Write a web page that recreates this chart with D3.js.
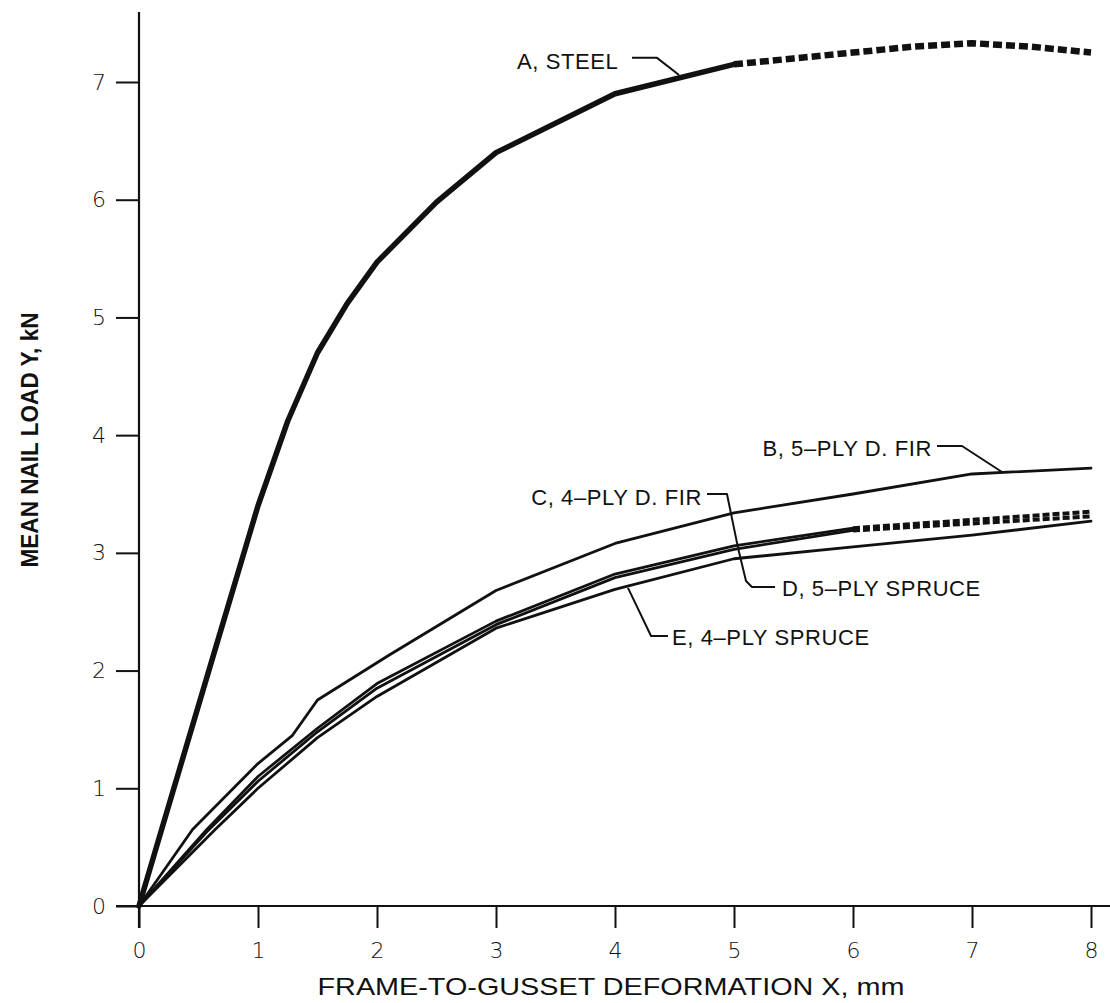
<!DOCTYPE html>
<html>
<head>
<meta charset="utf-8">
<script src="https://cdn.jsdelivr.net/npm/d3@7/dist/d3.min.js"></script>
<style>
  html, body { margin: 0; padding: 0; background: #fff; }
  svg { display: block; }
</style>
</head>
<body>
<svg id="chart" width="1110" height="1003"></svg>
<script>
// ---- data ----
const xTicks = [0, 1, 2, 3, 4, 5, 6, 7, 8];
const yTicks = [0, 1, 2, 3, 4, 5, 6, 7];

// A, steel (solid part, then dashed extrapolation)
const aX = [0, 0.19, 0.64, 1, 1.25, 1.5, 1.75, 2, 2.5, 3, 4, 5];
const aY = [0, 0.65, 2.18, 3.4, 4.12, 4.7, 5.12, 5.47, 5.98, 6.4, 6.9, 7.15];
const aDashX = [5, 5.5, 6, 6.5, 7, 7.5, 8];
const aDashY = [7.15, 7.2, 7.25, 7.3, 7.33, 7.3, 7.25];

// B, 5-ply D. fir
const bX = [0, 0.45, 1, 1.29, 1.5, 2.1, 3, 4, 5, 6, 7, 8];
const bY = [0, 0.65, 1.21, 1.45, 1.75, 2.13, 2.68, 3.08, 3.34, 3.5, 3.67, 3.72];

// C, 4-ply D. fir
const cX = [0, 0.57, 1, 1.5, 2, 3, 4, 5, 6];
const cY = [0, 0.65, 1.1, 1.51, 1.89, 2.42, 2.82, 3.06, 3.21];
const cDashX = [6, 7, 8];
const cDashY = [3.21, 3.28, 3.35];

// D, 5-ply spruce
const dX = [0, 0.57, 1, 1.5, 2, 3, 4, 5, 6];
const dY = [0, 0.63, 1.06, 1.48, 1.85, 2.39, 2.79, 3.03, 3.19];
const dDashX = [6, 7, 8];
const dDashY = [3.19, 3.25, 3.31];

// E, 4-ply spruce
const eX = [0, 0.64, 1, 1.5, 2, 3, 4, 5, 6, 7, 8];
const eY = [0, 0.65, 1.0, 1.43, 1.78, 2.36, 2.69, 2.95, 3.05, 3.15, 3.27];

// curve labels (text anchor point + leader polyline, in data units)
const labelText = ["A, STEEL", "B, 5–PLY D. FIR", "C, 4–PLY D. FIR", "D, 5–PLY SPRUCE", "E, 4–PLY SPRUCE"];
const labelPos = [[3.176, 7.18], [6.664, 3.891], [4.731, 3.475], [5.403, 2.702], [4.479, 2.285]];
const labelAnchor = ["start", "end", "end", "start", "start"];
const leaderPts = [
  [[4.143, 7.205], [4.353, 7.205], [4.538, 7.06]],
  [[6.706, 3.908], [6.916, 3.908], [7.252, 3.687]],
  [[4.773, 3.50], [4.941, 3.50], [5.034, 3.042]],
  [[5.345, 2.71], [5.151, 2.71], [5.101, 2.761], [5.034, 3.042]],
  [[4.445, 2.294], [4.303, 2.294], [4.109, 2.702]]
];

const xTitle = "FRAME-TO-GUSSET DEFORMATION X, mm";
const yTitle = "MEAN NAIL LOAD Y, kN";

// ---- drawing ----
const svg = d3.select("#chart");
const x = d3.scaleLinear().domain([0, 8]).range([139, 1091]);
const y = d3.scaleLinear().domain([0, 7]).range([906, 82]);
const ink = "#111";

// axes
const xAxis = d3.axisBottom(x).tickValues(xTicks).tickSize(22).tickPadding(11).tickFormat(d3.format("d"));
const yAxis = d3.axisLeft(y).tickValues(yTicks).tickSize(23).tickPadding(10).tickFormat(d3.format("d"));

const gx = svg.append("g").attr("transform", `translate(0,${y(0)})`).call(xAxis);
const gy = svg.append("g").attr("transform", `translate(${x(0)},0)`).call(yAxis);
gx.select(".domain").remove();
gy.select(".domain").remove();
[gx, gy].forEach(g => {
  g.selectAll(".tick line").attr("stroke", ink).attr("stroke-width", 2);
  g.selectAll(".tick text").attr("fill", ink)
    .style("font-family", "'DejaVu Sans', sans-serif").style("font-size", "22px").style("font-weight", "300");
});
gx.selectAll(".tick text").attr("dy", "0.85em");

// axis lines
svg.append("line").attr("x1", x(0) - 23).attr("x2", 1110).attr("y1", y(0)).attr("y2", y(0))
  .attr("stroke", ink).attr("stroke-width", 2.2);
svg.append("line").attr("x1", x(0)).attr("x2", x(0)).attr("y1", 12).attr("y2", y(0) + 22)
  .attr("stroke", ink).attr("stroke-width", 2.2);

// curves
const line = d3.line().x(d => x(d[0])).y(d => y(d[1]));
const zip = (xs, ys) => xs.map((v, i) => [v, ys[i]]);

function draw(xs, ys, width, dash) {
  svg.append("path").datum(zip(xs, ys)).attr("d", line)
    .attr("fill", "none").attr("stroke", ink).attr("stroke-width", width)
    .attr("stroke-linejoin", "round").attr("stroke-linecap", dash ? "butt" : "round")
    .attr("stroke-dasharray", dash || null);
}
draw(eX, eY, 2.8);
draw(dX, dY, 2.8);
draw(cX, cY, 2.8);
draw(bX, bY, 2.8);
draw(aX, aY, 5.5);
draw(aDashX, aDashY, 6.5, "9,4");
draw(cDashX, cDashY, 4, "7,3");
draw(dDashX, dDashY, 4, "7,3");

// labels
leaderPts.forEach(pts => {
  svg.append("path").datum(pts).attr("d", line).attr("fill", "none")
    .attr("stroke", ink).attr("stroke-width", 2).attr("stroke-linejoin", "round");
});
labelText.forEach((t, i) => {
  svg.append("text").attr("x", x(labelPos[i][0])).attr("y", y(labelPos[i][1]))
    .attr("dy", "0.36em").attr("text-anchor", labelAnchor[i]).attr("fill", ink)
    .style("font-family", "'Liberation Sans', Arial, sans-serif").style("font-size", "22px")
    .style("font-weight", "500").style("letter-spacing", "0.6px")
    .text(t);
});

// titles
svg.append("text").attr("x", 611).attr("y", 986).attr("dy", "0.36em").attr("text-anchor", "middle")
  .attr("fill", ink).style("font-family", "'Liberation Sans', Arial, sans-serif")
  .style("font-size", "24px").attr("textLength", 587).attr("lengthAdjust", "spacingAndGlyphs")
  .text(xTitle);
svg.append("text").attr("transform", "translate(30,440) rotate(-90)").attr("dy", "0.36em")
  .attr("text-anchor", "middle").attr("fill", ink)
  .style("font-family", "'Liberation Sans', Arial, sans-serif").style("font-size", "23px")
  .style("font-weight", "bold").attr("textLength", 255).attr("lengthAdjust", "spacingAndGlyphs")
  .text(yTitle);
</script>
</body>
</html>
